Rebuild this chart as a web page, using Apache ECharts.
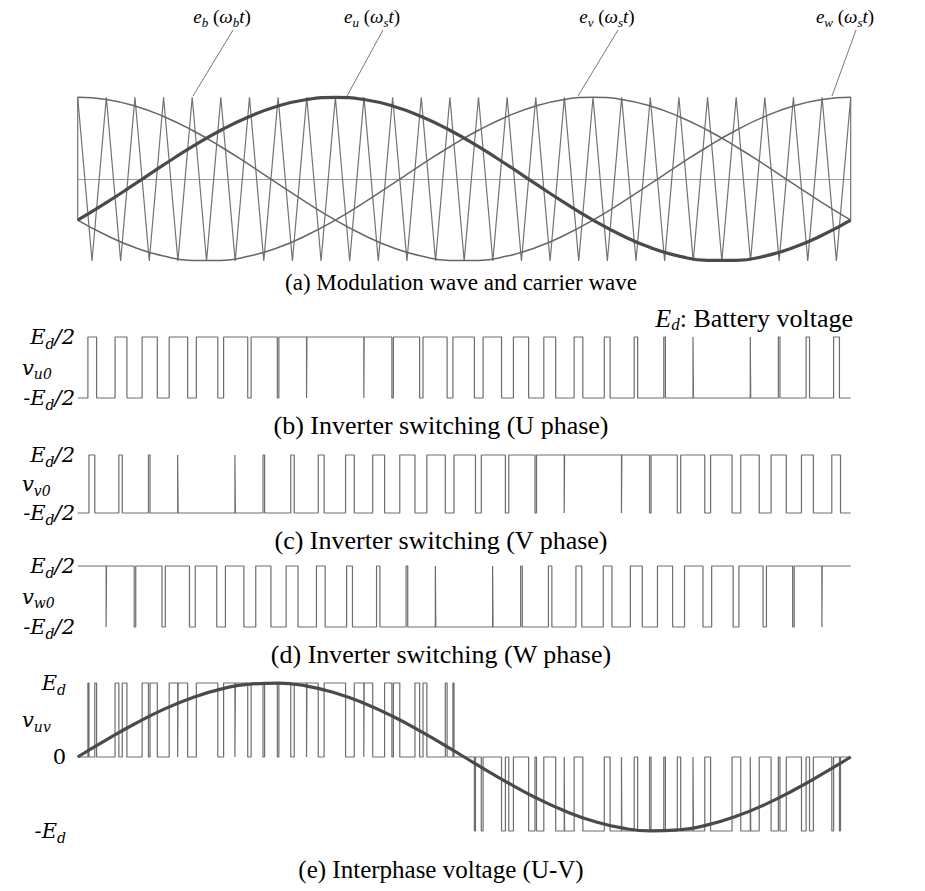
<!DOCTYPE html>
<html>
<head>
<meta charset="utf-8">
<script src="https://cdn.jsdelivr.net/npm/echarts@6/dist/echarts.min.js"></script>
<style>
  html, body { margin: 0; padding: 0; background: #fff; }
  #chart { width: 925px; height: 891px; }
</style>
</head>
<body>
<div id="chart"></div>
<script>
// ---- data ---------------------------------------------------------------
// Time axis is measured in carrier periods; the window holds 27 of them.
const carrierPeriods = 27;

// Carrier e_b: level at every vertex (each half carrier period), t = 0, 0.5, 1, ...
const carrierLevels = [
  1,-1, 1,-1, 1,-1, 1,-1, 1,-1, 1,-1, 1,-1, 1,-1, 1,-1, 1,-1,
  1,-1, 1,-1, 1,-1, 1,-1, 1,-1, 1,-1, 1,-1, 1,-1, 1,-1, 1,-1,
  1,-1, 1,-1, 1,-1, 1,-1, 1,-1, 1,-1, 1,-1, 1
];

// Modulation waves sampled at every carrier peak, t = 0 .. 27
const modU = [-0.5,-0.287,-0.058,0.174,0.396,0.597,0.766,0.894,0.973,1,
  0.973,0.894,0.766,0.597,0.396,0.174,-0.058,-0.287,-0.5,-0.686,
  -0.836,-0.94,-0.993,-0.993,-0.94,-0.836,-0.686,-0.5];
const modV = [-0.5,-0.686,-0.836,-0.94,-0.993,-0.993,-0.94,-0.836,-0.686,-0.5,
  -0.287,-0.058,0.174,0.396,0.597,0.766,0.894,0.973,1,0.973,
  0.894,0.766,0.597,0.396,0.174,-0.058,-0.287,-0.5];
const modW = [1,0.973,0.894,0.766,0.597,0.396,0.174,-0.058,-0.287,-0.5,
  -0.686,-0.836,-0.94,-0.993,-0.993,-0.94,-0.836,-0.686,-0.5,-0.287,
  -0.058,0.174,0.396,0.597,0.766,0.894,0.973,1];

// Fundamental of the U-V line voltage (in units of E_d), same sample instants
const uvFundamental = [0,0.231,0.449,0.643,0.802,0.918,0.985,0.998,0.958,0.866,
  0.727,0.55,0.342,0.116,-0.116,-0.342,-0.55,-0.727,-0.866,-0.958,
  -0.998,-0.985,-0.918,-0.802,-0.643,-0.449,-0.231,0];

// Level labels (rich-text markup) and captions
const phaseLabels = ['{i|v}{s|u0}', '{i|v}{s|v0}', '{i|v}{s|w0}'];
const halfLevelLabels = ['{i|E}{s|d}{i|/2}', '{i|-E}{s|d}{i|/2}'];
const lineLevelLabels = ['{i|E}{s|d}', '{r|0}', '{i|-E}{s|d}'];
const waveNames = [
  '{i|e}{s|b}{r| (}{i|ω}{s|b}{i|t}{r|)}',
  '{i|e}{s|u}{r| (}{i|ω}{s|s}{i|t}{r|)}',
  '{i|e}{s|v}{r| (}{i|ω}{s|s}{i|t}{r|)}',
  '{i|e}{s|w}{r| (}{i|ω}{s|s}{i|t}{r|)}'
];
const captions = [
  '(a) Modulation wave and carrier wave',
  '(b) Inverter switching (U phase)',
  '(c) Inverter switching (V phase)',
  '(d) Inverter switching (W phase)',
  '(e) Interphase voltage (U-V)'
];

// ---- comparator: switching instants where a modulation wave meets the carrier
function modAt(mod, t) {
  const k = Math.min(Math.floor(t), mod.length - 2);
  return mod[k] + (mod[k + 1] - mod[k]) * (t - k);
}
function switching(mod) {
  const start = mod[0] - carrierLevels[0] >= 0;
  let state = start;
  const edges = [];
  for (let i = 0; i < carrierLevels.length - 1; i++) {
    const t0 = i / 2, t1 = (i + 1) / 2;
    const d0 = modAt(mod, t0) - carrierLevels[i];
    const d1 = modAt(mod, t1) - carrierLevels[i + 1];
    const s1 = d1 >= 0;
    if (s1 !== state) {
      edges.push(d0 === d1 ? t0 : t0 + (t1 - t0) * d0 / (d0 - d1));
      state = s1;
    }
  }
  // pulses thinner than a hair vanish
  for (let j = 0; j < edges.length - 1; ) {
    if (edges[j + 1] - edges[j] < 0.008) edges.splice(j, 2); else j++;
  }
  return { start, edges };
}
function stepPoints(sw, hi, lo) {
  let s = sw.start;
  const pts = [[0, s ? hi : lo]];
  sw.edges.forEach(t => { pts.push([t, s ? hi : lo]); s = !s; pts.push([t, s ? hi : lo]); });
  pts.push([carrierPeriods, s ? hi : lo]);
  return pts;
}
function lineVoltage(a, b) {
  const ev = a.edges.map(t => [t, 0]).concat(b.edges.map(t => [t, 1])).sort((p, q) => p[0] - q[0]);
  let sa = a.start, sb = b.start;
  const lv = () => (sa ? 1 : 0) - (sb ? 1 : 0);
  const pts = [[0, lv()]];
  ev.forEach(([t, w]) => { pts.push([t, lv()]); if (w === 0) sa = !sa; else sb = !sb; pts.push([t, lv()]); });
  pts.push([carrierPeriods, lv()]);
  return pts;
}

const swU = switching(modU), swV = switching(modV), swW = switching(modW);
const sampleT = modU.map((_, k) => k);

// ---- layout ---------------------------------------------------------------
const X_LEFT = 77.7, X_WIDTH = 773;
const panels = [
  { top: 97.3, height: 163.7, min: -1, max: 1 },    // (a)
  { top: 337, height: 61, min: -0.5, max: 0.5 },    // (b)
  { top: 455, height: 58, min: -0.5, max: 0.5 },    // (c)
  { top: 566, height: 61, min: -0.5, max: 0.5 },    // (d)
  { top: 683, height: 148, min: -1, max: 1 }        // (e)
];
const captionY = [282, 425, 540, 654, 869];

const GRAY = '#6e6e6e';
const serif = '"Liberation Serif", "Times New Roman", serif';
const mathSerif = '"DejaVu Serif", "Liberation Serif", serif';

const grid = panels.map(p => ({ left: X_LEFT, width: X_WIDTH, top: p.top, height: p.height }));
const xAxis = panels.map((p, i) => ({
  type: 'value', gridIndex: i, min: 0, max: carrierPeriods,
  show: i === 0,
  axisLine: { show: i === 0, onZero: true, lineStyle: { color: '#9a9a9a', width: 1 } },
  axisTick: { show: false }, axisLabel: { show: false }, splitLine: { show: false }
}));
const yAxis = panels.map((p, i) => ({
  type: 'value', gridIndex: i, min: p.min, max: p.max, show: false,
  splitLine: { show: false }
}));

function line(gi, data, opts) {
  return Object.assign({
    type: 'line', xAxisIndex: gi, yAxisIndex: gi, data: data,
    symbol: 'none', clip: false, silent: true, animation: false,
    lineStyle: { color: GRAY, width: 1.2 }
  }, opts || {});
}

const series = [
  // (a) carrier
  line(0, carrierLevels.map((v, i) => [i / 2, v]), { lineStyle: { color: '#737373', width: 1.2 } }),
  // (a) end verticals joining the waves at the window edges
  line(0, [[0, modW[0]], [0, modU[0]]], { lineStyle: { color: '#737373', width: 1.2 } }),
  line(0, [[carrierPeriods, modW[carrierPeriods]], [carrierPeriods, modU[carrierPeriods]]], { lineStyle: { color: '#737373', width: 1.2 } }),
  // (a) modulation waves
  line(0, sampleT.map(k => [k, modW[k]]), { smooth: 0.5, lineStyle: { color: '#666', width: 1.5 } }),
  line(0, sampleT.map(k => [k, modV[k]]), { smooth: 0.5, lineStyle: { color: '#666', width: 1.5 } }),
  line(0, sampleT.map(k => [k, modU[k]]), { smooth: 0.5, lineStyle: { color: '#4a4a4a', width: 3.2 } }),
  // (b)(c)(d) phase voltages
  line(1, stepPoints(swU, 0.5, -0.5)),
  line(2, stepPoints(swV, 0.5, -0.5)),
  line(3, stepPoints(swW, 0.5, -0.5)),
  // (e) line voltage and its fundamental
  line(4, lineVoltage(swU, swV)),
  line(4, sampleT.map(k => [k, uvFundamental[k]]), { smooth: 0.5, lineStyle: { color: '#4a4a4a', width: 3.2 } })
];

// ---- text ---------------------------------------------------------------
const mathRich = (size, color, family) => ({
  i: { fontFamily: family, fontStyle: 'italic', fontSize: size, lineHeight: size + 6, color: color },
  r: { fontFamily: family, fontSize: size, lineHeight: size + 6, color: color },
  s: { fontFamily: family, fontStyle: 'italic', fontSize: Math.round(size * 0.66), lineHeight: Math.round(size * 0.66) + 1, verticalAlign: 'bottom', color: color }
});
function textEl(x, y, text, align, rich, extra) {
  return Object.assign({
    type: 'text', x: x, y: y, silent: true,
    style: { text: text, rich: rich, align: align, verticalAlign: 'middle', textAlign: align, textVerticalAlign: 'middle' }
  }, extra || {});
}
const capRichOf = size => ({
  c: { fontFamily: serif, fontSize: size, color: '#111', lineHeight: size + 4 },
  i: { fontFamily: serif, fontStyle: 'italic', fontSize: size, color: '#111', lineHeight: size + 4 },
  s: { fontFamily: serif, fontStyle: 'italic', fontSize: Math.round(size * 0.64), color: '#111', lineHeight: Math.round(size * 0.64) + 1, verticalAlign: 'bottom' }
});
const labelRich = mathRich(21, '#555', mathSerif);
const captionSize = [23, 26, 26, 26, 25];

const graphics = [];
// wave names with leader lines
const nameX = [222, 372, 607, 845];
const leader = [[233, 30, 193, 96], [383, 30, 347, 96], [618, 30, 578, 96], [856, 30, 832, 96]];
waveNames.forEach((t, i) => {
  graphics.push(textEl(nameX[i], 16, t, 'center', mathRich(19, '#555', serif)));
  const L = leader[i];
  graphics.push({ type: 'line', silent: true, shape: { x1: L[0], y1: L[1], x2: L[2], y2: L[3] }, style: { stroke: '#777', lineWidth: 1 } });
});
// captions
captions.forEach((c, i) => {
  graphics.push(textEl(i === 0 ? 461 : 441, captionY[i], '{c|' + c + '}', 'center', capRichOf(captionSize[i])));
});
graphics.push(textEl(853, 318, '{i|E}{s|d}{c|: Battery voltage}', 'right', capRichOf(26)));
// level labels of (b)(c)(d)
[1, 2, 3].forEach((pi, j) => {
  const p = panels[pi];
  graphics.push(textEl(75, p.top, halfLevelLabels[0], 'right', labelRich));
  graphics.push(textEl(22, p.top + p.height / 2, phaseLabels[j], 'left', labelRich));
  graphics.push(textEl(75, p.top + p.height, halfLevelLabels[1], 'right', labelRich));
});
// level labels of (e)
{
  const p = panels[4];
  graphics.push(textEl(66, p.top, lineLevelLabels[0], 'right', labelRich));
  graphics.push(textEl(22, p.top + p.height * 0.25, '{i|v}{s|uv}', 'left', labelRich));
  graphics.push(textEl(66, p.top + p.height / 2, lineLevelLabels[1], 'right', labelRich));
  graphics.push(textEl(66, p.top + p.height, lineLevelLabels[2], 'right', labelRich));
}

const chart = echarts.init(document.getElementById('chart'), null, { renderer: 'svg' });
chart.setOption({
  animation: false,
  backgroundColor: '#fff',
  grid: grid, xAxis: xAxis, yAxis: yAxis, series: series,
  graphic: { elements: graphics }
});
</script>
</body>
</html>
